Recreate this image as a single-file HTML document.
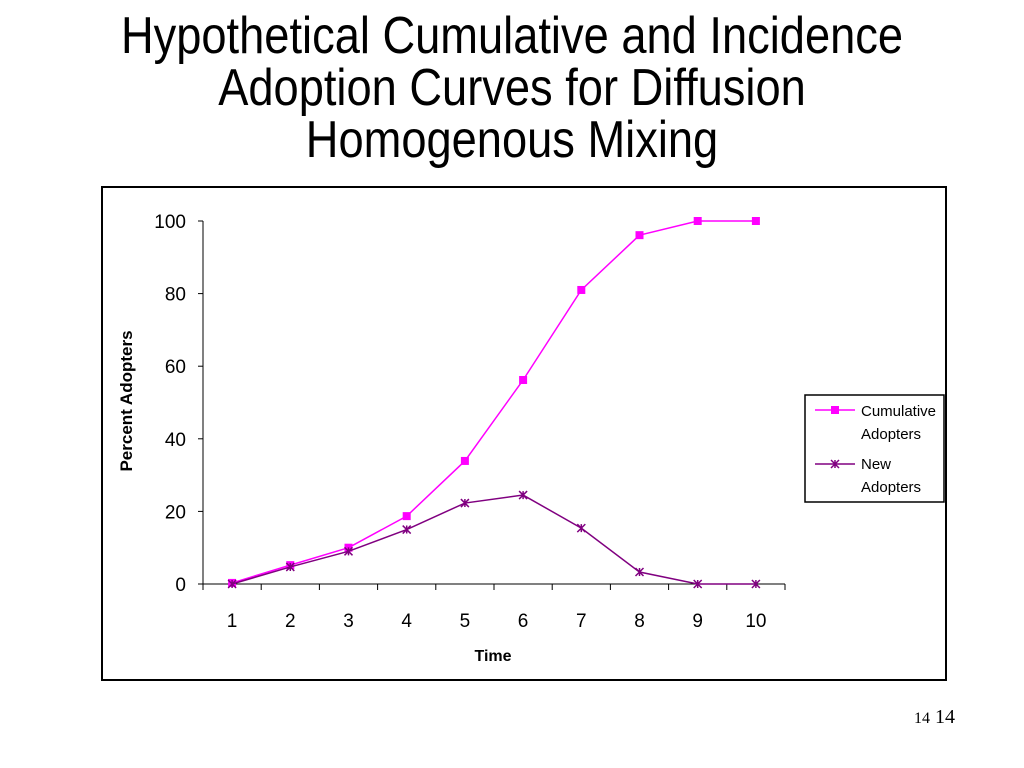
<!DOCTYPE html>
<html><head><meta charset="utf-8"><style>
body{margin:0;width:1024px;height:768px;background:#fff;overflow:hidden;font-family:"Liberation Sans",sans-serif}
#title{position:absolute;left:0;top:10px;width:1024px;text-align:center;font-size:52px;line-height:52px;color:#000;transform:scaleX(0.87);transform-origin:512px 0}
#pn{position:absolute;left:914px;top:706px;font-size:20px;font-family:"Liberation Serif",serif}
</style></head><body>
<div id="title">Hypothetical Cumulative and Incidence<br>Adoption Curves for Diffusion<br>Homogenous Mixing</div>
<div id="pn"><span style="font-size:16px">14</span> 14</div>
<svg width="1024" height="768" style="position:absolute;left:0;top:0" id="chart">
<rect x="102" y="187" width="844" height="493" fill="none" stroke="#000" stroke-width="2"/>
<g id="g"></g>
</svg>
<script>
const categories=["1","2","3","4","5","6","7","8","9","10"];
const cumulative=[0.3,5.2,10,18.7,33.9,56.2,81,96.1,100,100];
const newAdopters=[0,4.7,9,15,22.3,24.5,15.4,3.3,0,0];
const yTicks=[0,20,40,60,80,100];
const NS="http://www.w3.org/2000/svg";
const g=document.getElementById('g');
const x0=203,x1=785,y0=584,y1=221;
const step=(x1-x0)/categories.length;
const X=i=>x0+step*(i+0.5);
const Y=v=>y0-(v/100)*(y0-y1);
function mk(t,a,p){const e=document.createElementNS(NS,t);for(const k in a)e.setAttribute(k,a[k]);(p||g).appendChild(e);return e;}
let e;
e=mk('line',{x1:x0,y1:y1,x2:x0,y2:y0,stroke:'#000'});


e=mk('line',{x1:x0,y1:y0,x2:x1,y2:y0,stroke:'#000'});


yTicks.forEach(v=>{
 mk('line',{x1:x0-5,y1:Y(v),x2:x0,y2:Y(v),stroke:'#000'});
 e=mk('text',{x:x0-17,y:Y(v)+7,'text-anchor':'end','font-size':19});
 e.textContent=v;
 
 
});
for(let i=0;i<=categories.length;i++)mk('line',{x1:x0+step*i,y1:y0,x2:x0+step*i,y2:y0+6,stroke:'#000'});
categories.forEach((c,i)=>{
 e=mk('text',{x:X(i),y:627,'text-anchor':'middle','font-size':19});
 e.textContent=c;
 
 
});
e=mk('text',{x:493,y:661,'text-anchor':'middle','font-size':16,'font-weight':'bold'});
e.textContent='Time';


e=mk('text',{x:0,y:0,'text-anchor':'middle','font-size':17,'font-weight':'bold',transform:'translate(132,401) rotate(-90)'});
e.textContent='Percent Adopters';


function star(cx,cy,col,p){
 const s=4;
 mk('path',{d:`M${cx-s} ${cy-s}L${cx+s} ${cy+s}M${cx-s} ${cy+s}L${cx+s} ${cy-s}M${cx} ${cy-s}L${cx} ${cy+s}`,stroke:col,'stroke-width':1.5},p);
}
e=mk('polyline',{points:cumulative.map((v,i)=>X(i)+','+Y(v)).join(' '),fill:'none',stroke:'#ff00ff','stroke-width':1.5});


cumulative.forEach((v,i)=>{
 e=mk('rect',{x:X(i)-4,y:Y(v)-4,width:8,height:8,fill:'#ff00ff'});
 
 
});
e=mk('polyline',{points:newAdopters.map((v,i)=>X(i)+','+Y(v)).join(' '),fill:'none',stroke:'#800080','stroke-width':1.5});


newAdopters.forEach((v,i)=>{
 const gg=mk('g',{});
 
 
 star(X(i),Y(v),'#800080',gg);
});
const lg=mk('g',{});


mk('rect',{x:805,y:395,width:139,height:107,fill:'#fff',stroke:'#000','stroke-width':1.5},lg);
mk('line',{x1:815,y1:410,x2:855,y2:410,stroke:'#ff00ff','stroke-width':1.5},lg);
mk('rect',{x:831,y:406,width:8,height:8,fill:'#ff00ff'},lg);
e=mk('text',{x:861,y:416,'font-size':15},lg);
e.textContent='Cumulative';


mk('text',{x:861,y:439,'font-size':15},lg).textContent='Adopters';
mk('line',{x1:815,y1:464,x2:855,y2:464,stroke:'#800080','stroke-width':1.5},lg);
star(835,464,'#800080',lg);
e=mk('text',{x:861,y:469,'font-size':15},lg);
e.textContent='New';


mk('text',{x:861,y:492,'font-size':15},lg).textContent='Adopters';
</script>
</body></html>
